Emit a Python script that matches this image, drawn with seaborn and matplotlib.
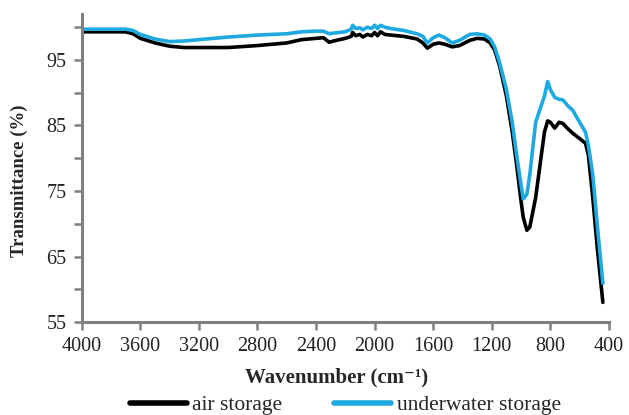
import numpy as np
import pandas as pd
import matplotlib
matplotlib.use("Agg")
import matplotlib.pyplot as plt
import seaborn as sns

wavenumber = [4000, 3800, 3700, 3650, 3600, 3500, 3400, 3300, 3200, 3000, 2800, 2600, 2500,
              2400, 2350, 2310, 2280, 2200, 2160, 2150, 2130, 2100, 2080, 2050, 2020, 2000,
              1980, 1960, 1930, 1890, 1800, 1710, 1670, 1640, 1600, 1560, 1520, 1470, 1420,
              1350, 1300, 1250, 1210, 1180, 1145, 1100, 1060, 1030, 1000, 985, 960, 940, 900,
              870, 840, 818, 800, 770, 740, 714, 680, 646, 600, 560, 540, 510, 480, 441]

air_storage = [99.3, 99.3, 99.3, 99.0, 98.3, 97.6, 97.1, 96.9, 96.9, 96.9, 97.2, 97.6, 98.1,
               98.3, 98.4, 97.7, 97.9, 98.3, 98.6, 99.2, 98.7, 98.9, 98.5, 98.9, 98.7, 99.2,
               98.7, 99.3, 98.9, 98.8, 98.6, 98.2, 97.6, 96.8, 97.4, 97.6, 97.4, 97.0, 97.2,
               98.0, 98.3, 98.2, 97.6, 96.5, 94.0, 89.5, 84.0, 79.0, 73.5, 71.0, 69.0, 69.5, 74.0,
               79.0, 84.0, 85.7, 85.5, 84.6, 85.5, 85.3, 84.5, 83.8, 83.0, 82.3, 80.5, 74.0, 66.5, 58.0]

underwater_storage = [99.7, 99.7, 99.7, 99.5, 98.9, 98.2, 97.8, 97.9, 98.1, 98.5, 98.8, 99.0, 99.3,
                      99.4, 99.4, 99.0, 99.1, 99.3, 99.7, 100.3, 99.8, 99.9, 99.6, 100.0, 99.8, 100.3,
                      99.8, 100.3, 100.0, 99.8, 99.5, 99.0, 98.6, 97.6, 98.4, 98.8, 98.4, 97.6, 98.0,
                      98.9, 99.0, 98.8, 98.2, 97.0, 94.5, 90.5, 85.5, 80.5, 76.0, 73.8, 74.5, 77.5, 85.5,
                      87.5, 89.5, 91.7, 90.5, 89.3, 89.0, 88.9, 88.0, 87.3, 85.5, 84.0, 82.0, 77.5, 70.0, 60.9]

series_names = ["air storage", "underwater storage"]
x_ticks = [4000, 3600, 3200, 2800, 2400, 2000, 1600, 1200, 800, 400]
y_ticks = [55, 65, 75, 85, 95]

sns.set_theme(style="white")
plt.rcParams['font.family'] = ['Liberation Serif', 'DejaVu Serif']

df = pd.DataFrame({
    "Wavenumber": wavenumber * 2,
    "Transmittance": air_storage + underwater_storage,
    "Sample": [series_names[0]] * len(wavenumber) + [series_names[1]] * len(wavenumber),
})

fig = plt.figure(figsize=(6.29, 4.15), dpi=100)
ax = fig.add_axes([0.130, 0.224, 0.838, 0.742])
sns.lineplot(data=df, x="Wavenumber", y="Transmittance", hue="Sample",
             palette={series_names[0]: "#000000", series_names[1]: "#1fa9e1"},
             linewidth=2.6, ax=ax, sort=False, estimator=None, legend=True)

ax.set_xlim(4000, 400)
ax.set_ylim(55, 102)
ax.set_xticks(x_ticks)
ax.set_xticklabels([str(t) for t in x_ticks])
ax.set_yticks(y_ticks)
ax.set_yticks([60, 70, 80, 90, 100], minor=True)
ax.tick_params(axis='both', which='both', direction='out', color='#808080',
               width=1.8, labelsize=14.5, labelcolor='#222222', pad=5)
ax.tick_params(axis='both', which='major', length=6)
ax.tick_params(axis='y', which='minor', length=6)
ax.tick_params(axis='x', which='major', bottom=True)
ax.tick_params(axis='y', which='both', left=True)

for s in ["top", "right"]:
    ax.spines[s].set_visible(False)
for s in ["left", "bottom"]:
    ax.spines[s].set_color('#808080')
    ax.spines[s].set_linewidth(2.2)

ax.set_xlabel("Wavenumber (cm\u207b\u00b9)", fontsize=15, fontweight='bold')
ax.xaxis.set_label_coords(0.483, -0.148)
ax.set_ylabel("Transmittance (%)", fontsize=13.5, fontweight='bold')
ax.yaxis.set_label_coords(-0.102, 0.46)

handles, labels = ax.get_legend_handles_labels()
for h in handles:
    h.set_linewidth(4)
ax.legend(handles, labels, loc='upper center', bbox_to_anchor=(0.5, -0.237), ncol=2,
          frameon=False, fontsize=15.5, handlelength=2.65, handletextpad=0.25,
          columnspacing=2.4, borderaxespad=0, borderpad=0)

fig.savefig("out.png", dpi=100)
